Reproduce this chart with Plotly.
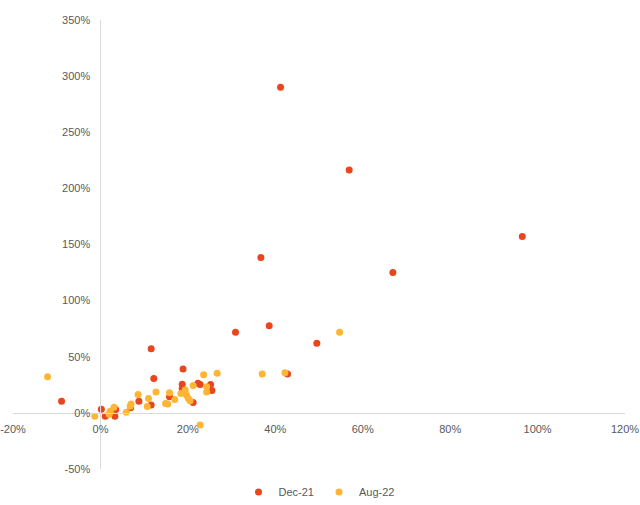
import plotly.graph_objects as go

dec21_x = [41.2, 56.9, 36.7, 96.5, 66.9, 30.9, 38.6, 49.5, 42.8, 11.6, 18.9, 12.2,
           22.3, 22.8, 18.7, 18.7, 25.2, 25.5, 21.2, 15.8, 11.6, 8.8, 6.9, 3.5,
           3.3, 1.1, 0.2, -8.9]
dec21_y = [290, 216.4, 138.4, 157.1, 125, 71.8, 77.7, 62, 34.6, 57.1, 39, 30.7,
           26.5, 25.3, 25.4, 21.8, 25.3, 20, 9.3, 14.3, 7.1, 10.4, 4.5, 3,
           -3, -3, 3.3, 10.4]

aug22_x = [54.7, 23.6, 26.7, 37.0, 42.2, 24.3, 24.3, 21.2, 19.4, 18.4, 19.7, 20.1,
           20.5, 17.0, 15.8, 14.9, 15.4, 12.7, 10.7, 11.0, 8.6, 7.0, 6.8, 5.9,
           3.1, 2.2, 2.0, -1.3, 22.8, -12.1]
aug22_y = [71.8, 33.9, 35.2, 34.6, 35.7, 23.2, 18.5, 24.4, 20.3, 17.3, 15.8, 12.8,
           10.7, 12, 17.9, 8.4, 7.8, 18.5, 5.7, 12.8, 16.4, 7.8, 6.0, 0.6,
           5.1, 1.5, -1.2, -3, -10.7, 32.1]

x_ticks = [-20, 0, 20, 40, 60, 80, 100, 120]
x_tick_labels = ["-20%", "0%", "20%", "40%", "60%", "80%", "100%", "120%"]
y_ticks = [-50, 0, 50, 100, 150, 200, 250, 300, 350]
y_tick_labels = ["-50%", "0%", "50%", "100%", "150%", "200%", "250%", "300%", "350%"]

x_range = [-20, 120]
y_range = [-50, 350]

fig = go.Figure()
fig.add_trace(go.Scatter(x=dec21_x, y=dec21_y, mode="markers", name="Dec-21",
                         marker=dict(color="#E8461E", size=7, line=dict(width=0))))
fig.add_trace(go.Scatter(x=aug22_x, y=aug22_y, mode="markers", name="Aug-22",
                         marker=dict(color="#FFB534", size=7, line=dict(width=0))))

font = dict(family="Liberation Sans, Arial, sans-serif", size=11, color="#595959")

fig.update_layout(
    width=640, height=505,
    margin=dict(l=13, r=15, t=20, b=36, autoexpand=False),
    paper_bgcolor="white", plot_bgcolor="white",
    font=font,
    showlegend=True,
    legend=dict(orientation="h", x=0.5, xanchor="center", y=-0.051, yanchor="middle",
                font=font, itemwidth=30, tracegroupgap=0),
    xaxis=dict(range=[x_range[0] - 0.01, x_range[1]], tickvals=x_ticks, ticktext=x_tick_labels,
               showgrid=False, zeroline=False,
               showline=True, linecolor="#D9D9D9", linewidth=1, ticks="",
               anchor="free", position=(0 - y_range[0]) / (y_range[1] - y_range[0]),
               ticklabelstandoff=6, tickfont=font, automargin=False),
    yaxis=dict(range=y_range, tickvals=y_ticks, ticktext=y_tick_labels,
               showgrid=False, zeroline=False,
               showline=True, linecolor="#D9D9D9", linewidth=1, ticks="",
               anchor="free", position=(0 - x_range[0]) / (x_range[1] - x_range[0]),
               ticklabelstandoff=8, tickfont=font, automargin=False),
)

fig.write_html("out.html")
